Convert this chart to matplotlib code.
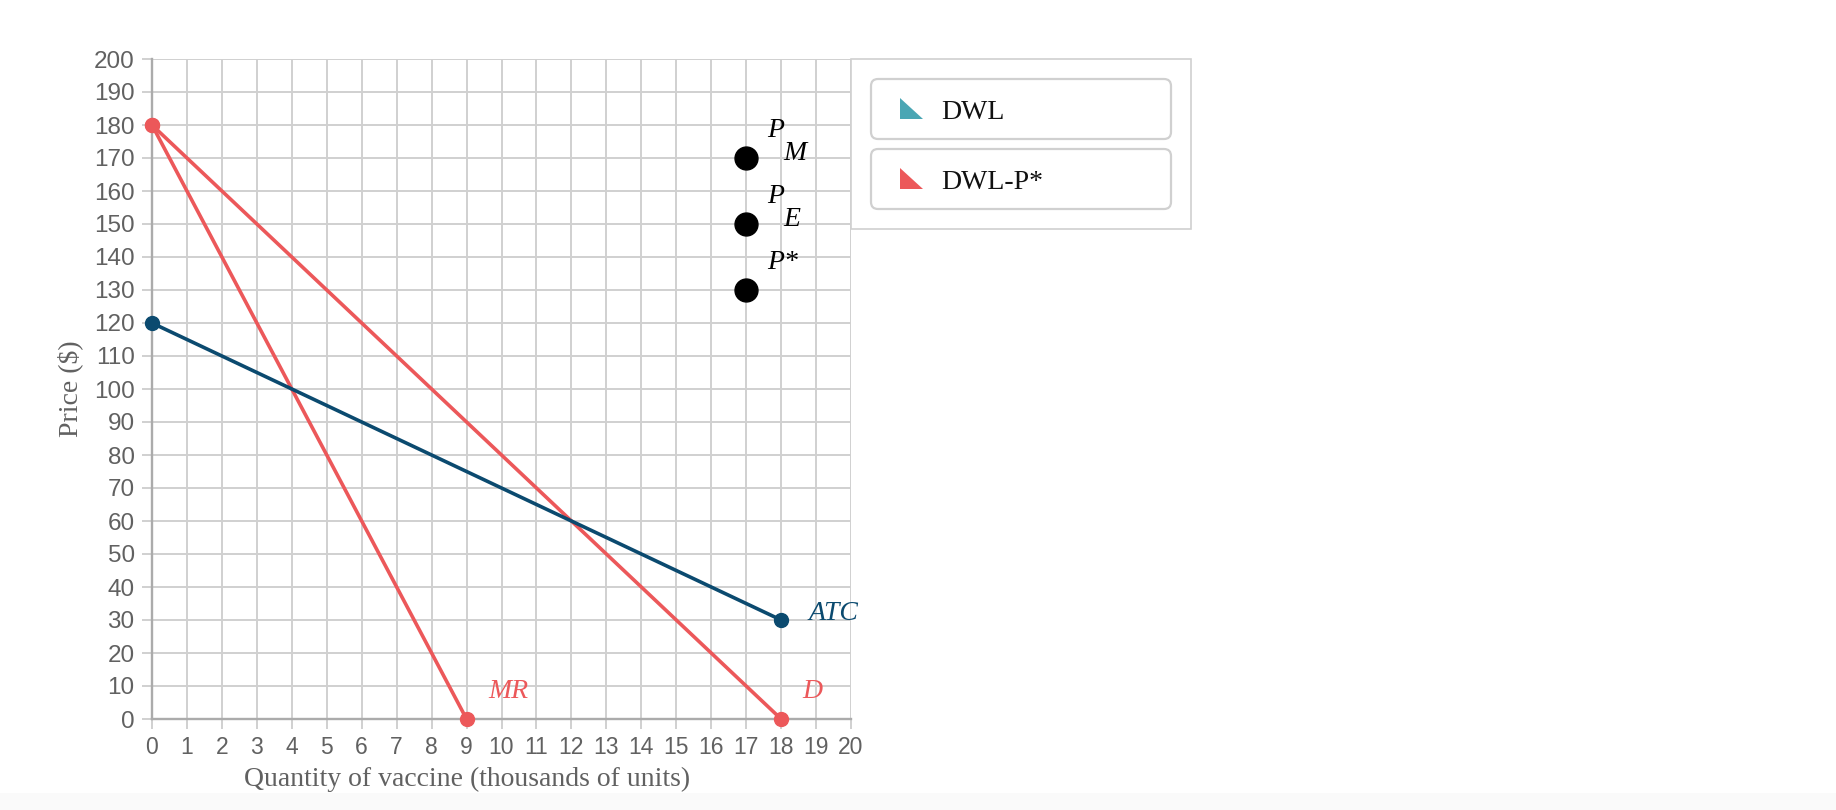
import numpy as np
import matplotlib
matplotlib.use("Agg")
import matplotlib.pyplot as plt
from matplotlib.patches import FancyBboxPatch, Polygon, Rectangle

# --- dane wykresu ---
d_q = [0, 18]
d_p = [180, 0]
mr_q = [0, 9]
mr_p = [180, 0]
atc_q = [0, 18]
atc_p = [120, 30]

price_q = [17, 17, 17]
price_p = [170, 150, 130]
price_main = ["P", "P", "P*"]
price_sub = ["M", "E", ""]

x_ticks = list(range(0, 21))
y_ticks = list(range(0, 201, 10))

legend_labels = ["DWL", "DWL-P*"]
legend_colors = ["#4aa6b4", "#ec585a"]

RED = "#ec585a"
BLUE = "#0b4a6f"
GRID = "#d0d0d0"
AXIS = "#ababab"
TXT = "#616161"

W, H = 1836, 810
fig = plt.figure(figsize=(W / 100, H / 100), dpi=100)
fig.patch.set_facecolor("white")

# warstwa w pikselach (legenda, tlo)
ov = fig.add_axes([0, 0, 1, 1], zorder=0)
ov.set_xlim(0, W)
ov.set_ylim(H, 0)
ov.axis("off")
ov.add_patch(Rectangle((0, 793), W, 17, color="#fafafa", lw=0))

# --- wykres glowny ---
L, R, T, B = 152, 851, 59, 719
ax = fig.add_axes([L / W, 1 - B / H, (R - L) / W, (B - T) / H], zorder=2)
ax.patch.set_alpha(0)
ax.set_xlim(0, 20)
ax.set_ylim(0, 200)
ax.set_xticks(x_ticks)
ax.set_yticks(y_ticks)
ax.grid(True, color=GRID, lw=1.4, zorder=0)
ax.set_axisbelow(True)
for s in ["top", "right"]:
    ax.spines[s].set_visible(False)
for s in ["left", "bottom"]:
    ax.spines[s].set_color(AXIS)
    ax.spines[s].set_linewidth(1.7)
ax.tick_params(length=7.5, width=1.4, color=GRID, pad=5, labelcolor=TXT)
ax.tick_params(axis="y", labelsize=17.5)
ax.tick_params(axis="x", labelsize=16.5)
for lab in ax.get_xticklabels() + ax.get_yticklabels():
    lab.set_fontfamily("Liberation Sans")

lw = 2.6
ms = 10
ax.plot(d_q, d_p, color=RED, lw=lw, marker="o", ms=ms, clip_on=False, zorder=3)
ax.plot(mr_q, mr_p, color=RED, lw=lw, marker="o", ms=ms, clip_on=False, zorder=3)
ax.plot(atc_q, atc_p, color=BLUE, lw=lw, marker="o", ms=ms, clip_on=False, zorder=3)
ax.plot(price_q, price_p, "o", color="black", ms=16.5, clip_on=False, zorder=4, ls="none")

lab_font = dict(family="Liberation Serif", style="italic", fontsize=20)
for q, p, m, s in zip(price_q, price_p, price_main, price_sub):
    ax.annotate(m, (q, p), xytext=(15.1, 15.1), textcoords="offset points",
                va="baseline", ha="left", color="black", **lab_font)
    if s:
        ax.annotate(s, (q, p), xytext=(26.8, -1.2), textcoords="offset points",
                    va="baseline", ha="left", color="black", **lab_font)

ax.annotate("MR", (mr_q[1], mr_p[1]), xytext=(15.5, 15.1), textcoords="offset points",
            va="baseline", ha="left", color=RED, **lab_font)
ax.annotate("D", (d_q[1], d_p[1]), xytext=(15.1, 15.1), textcoords="offset points",
            va="baseline", ha="left", color=RED, **lab_font)
ax.annotate("ATC", (atc_q[1], atc_p[1]), xytext=(19.5, 0), textcoords="offset points",
            va="baseline", ha="left", color=BLUE, **lab_font)

# tytuly osi
fig.text(467 / W, 1 - 785.5 / H, "Quantity of vaccine (thousands of units)",
         ha="center", va="baseline", color=TXT, fontsize=20, family="Liberation Serif")
fig.text(70 / W, 1 - 389 / H, "Price ($)", rotation=90, ha="center", va="center",
         color=TXT, fontsize=20, family="Liberation Serif")

# --- legenda ---
ov.add_patch(Rectangle((851, 59), 340, 170, fill=False, ec="#d0d0d0", lw=1.2))
for i, (lab, col) in enumerate(zip(legend_labels, legend_colors)):
    y0 = 79 + i * 70
    ov.add_patch(FancyBboxPatch((871, y0), 300, 60, boxstyle="round,pad=0,rounding_size=7",
                                fill=False, ec="#d0d0d0", lw=1.6))
    ov.add_patch(Polygon([(900, y0 + 19), (900, y0 + 40), (923, y0 + 40)], closed=True,
                         color=col, lw=0))
    ov.text(941, y0 + 40, lab, ha="left", va="baseline", fontsize=20,
            family="Liberation Serif", color="#111111")

fig.savefig("out.png", dpi=100)
